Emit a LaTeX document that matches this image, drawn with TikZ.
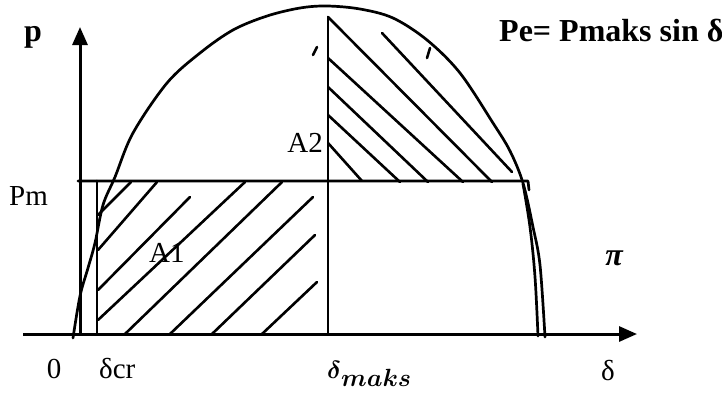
\documentclass[tikz,border=0pt]{standalone}
\usepackage{amsmath}
\usepackage{fontspec}
\setmainfont{Liberation Serif}
\usetikzlibrary{arrows.meta}
\begin{document}
\begin{tikzpicture}[x=1pt,y=-1pt,
  ax/.style={line width=3pt,-{Triangle[length=18pt,width=15pt]}},
  crv/.style={line width=2.7pt,line join=round,line cap=round},
  hatch/.style={line width=2.6pt,line cap=round},
  lbl/.style={inner sep=0pt,font=\fontsize{29}{32}\selectfont},
  blbl/.style={inner sep=0pt,font=\fontsize{32}{34}\selectfont\bfseries}]
\useasboundingbox (0,0) rectangle (722,392);
% axes
\coordinate (O) at (80,334);
\coordinate (xs) at (23,334);
\coordinate (xe) at (637,334);
\coordinate (ye) at (80,27);
\draw[ax] (O) -- (ye);
\draw[ax] (xs) -- (xe);
% Pm line and verticals
\coordinate (pmL) at (78,181);
\coordinate (pmR) at (528,181);
\draw[crv] (pmL) -- (pmR) -- (529,190);
\coordinate (crT) at (97,181);
\coordinate (crB) at (97,334);
\draw[crv] (crT) -- (crB);
\coordinate (mxT) at (328,17);
\coordinate (mxB) at (328,334);
\draw[crv] (mxT) -- (mxB);
% power curve
\draw[crv] plot[smooth,tension=0.55] coordinates {(73,338) (80,296) (88,268) (95,243) (103,205) (115,177) (133,133) (167,83) (200,53) (233,30) (267,16) (300,8) (327,6) (360,9) (393,18) (427,40) (460,73) (493,123) (510,151) (523,183) (533,227) (540,265) (545,337)};
\draw[crv] plot[smooth,tension=0.6] coordinates {(523,184) (530,227) (535,277) (538,336)};
% hatching A1
\draw[hatch] (98,215)--(131,182);
\draw[hatch] (98,250)--(157,182);
\draw[hatch] (98,290)--(190,197);
\draw[hatch] (98,320)--(245,182);
\draw[hatch] (125,334)--(282,182);
\draw[hatch] (170,334)--(313,197);
\draw[hatch] (212,334)--(315,235);
\draw[hatch] (262,334)--(317,282);
% hatching A2
\draw[hatch] (328,17)--(492,182);
\draw[hatch] (328,58)--(463,182);
\draw[hatch] (328,87)--(428,182);
\draw[hatch] (328,115)--(400,182);
\draw[hatch] (328,143)--(362,181);
\draw[hatch] (382,33)--(512,172);
% small marks
\draw[hatch] (313,55)--(317,47);
\draw[hatch] (427,58)--(430,48);
% labels
\node[blbl,anchor=base] (p) at (33,41) {p};
\node[blbl,anchor=base west] (eq) at (499,41) {Pe= Pmaks sin δ};
\node[lbl,anchor=base west] (pm) at (9,205) {Pm};
\node[lbl,anchor=base east] (a2) at (323,152) {A2};
\node[lbl,anchor=base west] (a1) at (149,262) {A1};
\node[lbl,anchor=base] (zero) at (54,378) {0};
\node[lbl,anchor=base west] (dcr) at (99,378) {δcr};
\node[lbl,anchor=base west,font=\fontsize{35}{38}\selectfont] (dmx) at (327,378) {$\boldsymbol{\delta}_{\boldsymbol{maks}}$};
\node[lbl,anchor=base] (dl) at (608,380) {δ};
\node[blbl,anchor=base] (pi) at (614,265) {\itshape π};
\end{tikzpicture}
\end{document}
